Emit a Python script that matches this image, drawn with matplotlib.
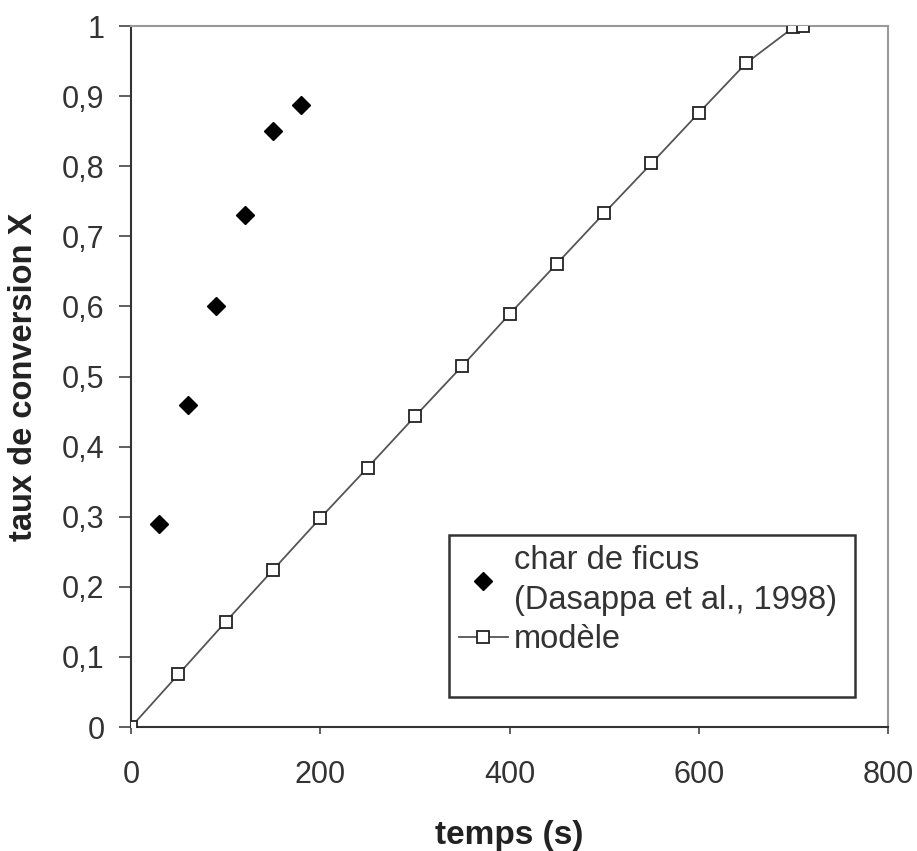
import matplotlib.pyplot as plt
from matplotlib.patches import Rectangle

plt.rcParams['font.family'] = ['Liberation Sans', 'DejaVu Sans']

# donnees experimentales (char de ficus)
t_exp = [30, 60, 90, 120, 150, 180]
x_exp = [0.29, 0.46, 0.60, 0.73, 0.85, 0.888]

# modele
t_mod = [0, 50, 100, 150, 200, 250, 300, 350, 400, 450, 500, 550, 600, 650, 700, 710]
x_mod = [0, 0.075, 0.15, 0.224, 0.298, 0.37, 0.443, 0.515, 0.589, 0.661, 0.733,
         0.804, 0.876, 0.947, 0.998, 1.0]

xticks = [0, 200, 400, 600, 800]
yticks = [0, 0.1, 0.2, 0.3, 0.4, 0.5, 0.6, 0.7, 0.8, 0.9, 1]
ylabels = ["0", "0,1", "0,2", "0,3", "0,4", "0,5", "0,6", "0,7", "0,8", "0,9", "1"]

fig = plt.figure(figsize=(9.17, 8.51), dpi=100)
ax = fig.add_axes([0.1429, 0.1457, 0.8255, 0.8237])

ax.plot(t_mod, x_mod, color='#555555', lw=1.3, marker='s', markersize=9,
        markerfacecolor='white', markeredgecolor='#222222', markeredgewidth=1.3,
        label='modèle', zorder=3)
ax.plot(t_exp, x_exp, linestyle='none', marker='D', markersize=9.5, color='black',
        label='char de ficus\n(Dasappa et al., 1998)', zorder=4)

ax.set_xlim(0, 800)
ax.set_ylim(0, 1)
ax.set_xticks(xticks)
ax.set_xticklabels([str(v) for v in xticks])
ax.set_yticks(yticks)
ax.set_yticklabels(ylabels)

ax.tick_params(axis='y', length=9, width=1.2, color='#444444', labelsize=22,
               labelcolor='#333333', pad=10)
ax.tick_params(axis='x', length=5, width=1.2, color='#444444', labelsize=22,
               labelcolor='#333333', pad=19)

for side in ['left', 'bottom']:
    ax.spines[side].set_color('#333333')
    ax.spines[side].set_linewidth(1.5)
for side in ['top', 'right']:
    ax.spines[side].set_color('#999999')
    ax.spines[side].set_linewidth(1.5)

ax.set_xlabel('temps (s)', fontsize=24, fontweight='bold', color='#222222')
ax.set_ylabel('taux de conversion X', fontsize=23.5, fontweight='bold', color='#222222')
ax.xaxis.set_label_coords(0.5, -0.133)
ax.yaxis.set_label_coords(-0.122, 0.5)

# cadre de la legende
ax.add_patch(Rectangle((0.42, 0.043), 0.536, 0.231, transform=ax.transAxes,
                       fill=False, edgecolor='#333333', lw=1.8, zorder=5))

handles, labels = ax.get_legend_handles_labels()
leg = ax.legend(handles[::-1], labels[::-1], loc='upper left',
                bbox_to_anchor=(0.42, 0.274), frameon=False, fontsize=23.5,
                handlelength=1.5, handletextpad=0.2, labelspacing=0.25,
                borderaxespad=0, borderpad=0.3)
for txt in leg.get_texts():
    txt.set_color('#333333')
    txt.set_linespacing(1.4)

fig.savefig('out.png', dpi=100)
